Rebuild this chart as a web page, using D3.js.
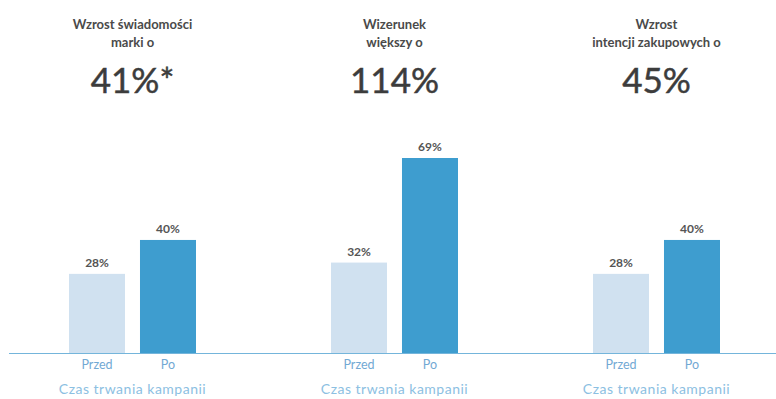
<!DOCTYPE html>
<html lang="pl">
<head>
<meta charset="utf-8">
<script src="https://cdn.jsdelivr.net/npm/d3@7/dist/d3.min.js"></script>
<style>
  html, body { margin: 0; padding: 0; background: #ffffff; }
  svg { display: block; font-family: Lato, "Open Sans", sans-serif; }
</style>
</head>
<body>
<svg id="chart" width="776" height="399"></svg>
<script>
// Campaign effect panels
const panels = ["swiadomosc", "wizerunek", "intencje"];
const panelTitles = [
  ["Wzrost świadomości", "marki o"],
  ["Wizerunek", "większy o"],
  ["Wzrost", "intencji zakupowych o"]
];
const headlineValues = ["41%*", "114%", "45%"];

// Before / after the campaign
const periods = ["Przed", "Po"];
const beforeValues = [28, 32, 28];
const afterValues = [40, 69, 40];
const axisCaption = "Czas trwania kampanii";

const svg = d3.select("#chart");
const W = 776, H = 399;
const baseY = 353;

const x0 = d3.scaleBand().domain(panels).range([1.5, 787.5]).padding(0);
const x1 = d3.scaleBand().domain(periods).range([-63.5, 63.5]).paddingInner(0.211).paddingOuter(0);
const y = d3.scaleLinear().domain([0, 69]).range([baseY, 158]);

const colors = { "Przed": "#d0e1f0", "Po": "#3e9dcf" };

const rows = panels.map((p, i) => ({
  key: p,
  title: panelTitles[i],
  headline: headlineValues[i],
  values: [
    { period: "Przed", value: beforeValues[i] },
    { period: "Po", value: afterValues[i] }
  ]
}));

// Baseline across the whole chart
svg.append("line")
  .attr("x1", 9).attr("x2", W)
  .attr("y1", baseY + 0.5).attr("y2", baseY + 0.5)
  .attr("stroke", "#74b5db").attr("stroke-width", 1.2);

const g = svg.selectAll("g.panel")
  .data(rows)
  .join("g")
  .attr("class", "panel")
  .attr("transform", d => `translate(${x0(d.key) + x0.bandwidth() / 2},0)`);

// Title lines
g.each(function(d) {
  const t = d3.select(this).append("text")
    .attr("text-anchor", "middle")
    .attr("font-size", 13)
    .attr("font-weight", 700)
    .attr("fill", "#4a4a4a");
  d.title.forEach((line, k) => {
    t.append("tspan").attr("x", 0).attr("y", 28.5 + k * 18).text(line);
  });
});

// Headline figure
g.append("text")
  .attr("text-anchor", "middle")
  .attr("y", 93)
  .attr("font-size", 35)
  .attr("fill", "#3c3c3c")
  .attr("stroke", "#3c3c3c")
  .attr("stroke-width", 0.5)
  .text(d => d.headline);

// Bars
g.selectAll("rect")
  .data(d => d.values)
  .join("rect")
  .attr("x", d => x1(d.period))
  .attr("width", x1.bandwidth())
  .attr("y", d => y(d.value))
  .attr("height", d => baseY - y(d.value))
  .attr("fill", d => colors[d.period]);

// Value labels
g.selectAll("text.val")
  .data(d => d.values)
  .join("text")
  .attr("class", "val")
  .attr("text-anchor", "middle")
  .attr("x", d => x1(d.period) + x1.bandwidth() / 2)
  .attr("y", d => y(d.value) - 7)
  .attr("font-size", 12)
  .attr("font-weight", 700)
  .attr("fill", "#555555")
  .text(d => d.value + "%");

// Period axis
g.append("g")
  .attr("transform", `translate(0,${baseY})`)
  .call(d3.axisBottom(x1).tickSize(0).tickPadding(7))
  .call(a => a.select(".domain").remove())
  .call(a => a.selectAll("text")
    .attr("font-family", "Lato, sans-serif")
    .attr("font-size", 12.5)
    .attr("fill", "#72a9d4"));

// Axis caption
g.append("text")
  .attr("text-anchor", "middle")
  .attr("y", 394)
  .attr("font-size", 14)
  .attr("letter-spacing", 0.5)
  .attr("fill", "#8cc0e2")
  .text(axisCaption);
</script>
</body>
</html>
